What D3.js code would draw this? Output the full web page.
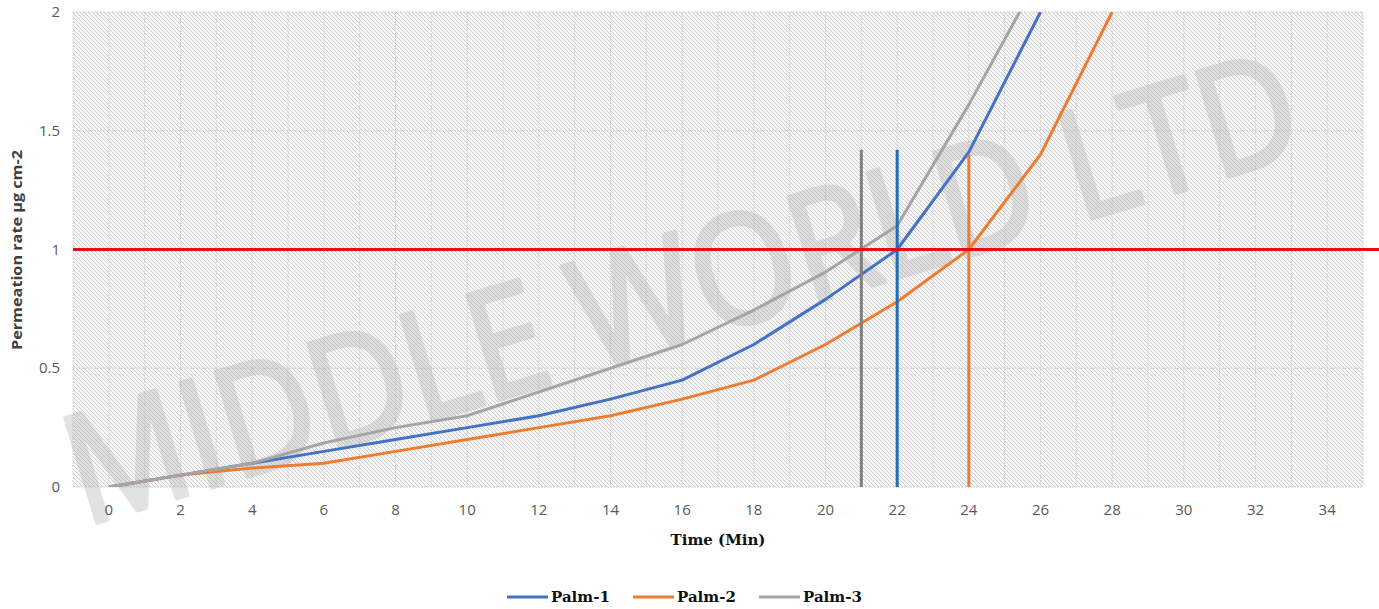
<!DOCTYPE html>
<html><head><meta charset="utf-8">
<script src="https://cdn.jsdelivr.net/npm/d3@7"></script>
<style>body{margin:0;background:#fff;}svg{display:block;}</style>
</head><body>
<script>
const times = [0,2,4,6,8,10,12,14,16,18,20,22,24,26,28];
const palm1 = [0,0.05,0.1,0.15,0.2,0.25,0.3,0.37,0.45,0.6,0.79,1.0,1.41,2.0];
const palm2 = [0,0.05,0.08,0.1,0.15,0.2,0.25,0.3,0.37,0.45,0.6,0.78,1.0,1.4,2.0];
const palm3 = [0,0.05,0.1,0.185,0.25,0.3,0.4,0.5,0.6,0.745,0.905,1.1,1.61,2.16];
const seriesNames = ["Palm-1","Palm-2","Palm-3"];
const seriesColors = ["#4472c4","#ed7d31","#a5a5a5"];
const xTicks = d3.range(0,35,2);
const yTicks = [0,0.5,1,1.5,2];
const threshold = 1;
const crossTimes = [21,22,24];
const crossTops = [1.42,1.42,1.40];
const crossColors = ["#7f7f7f","#1f6db5","#ed7d31"];

const W=1379,H=609;
const L=73,R=1363,T=12,B=487;
const svg=d3.select("body").append("svg").attr("width",W).attr("height",H);
const defs=svg.append("defs");
const pat=defs.append("pattern").attr("id","hatch").attr("patternUnits","userSpaceOnUse")
  .attr("width",4).attr("height",4);
pat.append("rect").attr("width",4).attr("height",4).attr("fill","#f7f7f7");
pat.append("path").attr("d","M-1,-1 L5,5 M-1,3 L1,5 M3,-1 L5,1").attr("stroke","#c8c8c8").attr("stroke-width",0.9);
defs.append("clipPath").attr("id","clip").append("rect").attr("x",L).attr("y",T).attr("width",R-L).attr("height",B-T);

const x=d3.scaleLinear().domain([-1,35]).range([L,R]);
const y=d3.scaleLinear().domain([0,2]).range([B,T]);

svg.append("rect").attr("x",L).attr("y",T).attr("width",R-L).attr("height",B-T).attr("fill","url(#hatch)");

// vertical gridlines
svg.append("g").selectAll("line").data(d3.range(-1,36)).join("line")
  .attr("x1",d=>x(d)).attr("x2",d=>x(d)).attr("y1",T).attr("y2",B)
  .attr("stroke","#d4d4d4").attr("stroke-width",1).attr("stroke-dasharray","2,1");
// horizontal gridlines
svg.append("g").selectAll("line").data(yTicks).join("line")
  .attr("x1",L).attr("x2",R).attr("y1",d=>y(d)).attr("y2",d=>y(d))
  .attr("stroke","#d0d0d0").attr("stroke-width",1).attr("stroke-dasharray","2,1");

// watermark
svg.append("text").attr("x",0).attr("y",0)
  .attr("transform","translate(685,300) rotate(-17)")
  .attr("text-anchor","middle").attr("dominant-baseline","middle").attr("font-family","Open Sans, sans-serif")
  .attr("font-size",152).attr("fill","#b4b4b4").attr("stroke","#b4b4b4").attr("stroke-width",5)
  .attr("stroke-linejoin","round").attr("opacity",0.38)
  .attr("textLength",1280).attr("lengthAdjust","spacingAndGlyphs")
  .text("MIDDLE WORLD LTD");

// axis tick labels
svg.append("g").selectAll("text").data(yTicks).join("text")
  .attr("x",60).attr("y",d=>y(d)+5).attr("text-anchor","end")
  .attr("font-family","Open Sans, sans-serif").attr("font-size",15).attr("fill","#595959")
  .text(d=>d3.format("")(d));
svg.append("g").selectAll("text").data(xTicks).join("text")
  .attr("x",d=>x(d)).attr("y",515).attr("text-anchor","middle")
  .attr("font-family","Open Sans, sans-serif").attr("font-size",15).attr("fill","#595959")
  .text(d=>d);

// axis titles
svg.append("text").attr("transform",`translate(22,250) rotate(-90)`).attr("text-anchor","middle")
  .attr("font-family","Open Sans, sans-serif").attr("font-weight","bold").attr("font-size",14).attr("fill","#404040")
  .attr("textLength",200).attr("lengthAdjust","spacingAndGlyphs")
  .text("Permeation rate µg cm-2");
svg.append("text").attr("x",718).attr("y",545).attr("text-anchor","middle")
  .attr("font-family","DejaVu Serif, serif").attr("font-weight","bold").attr("font-size",15).attr("fill","#111")
  .text("Time (Min)");

const g=svg.append("g").attr("clip-path","url(#clip)");
const line=d3.line().x((d,i)=>x(times[i])).y(d=>y(d));
[palm1,palm2,palm3].forEach((s,i)=>{
  g.append("path").datum(s).attr("d",line).attr("fill","none")
   .attr("stroke",seriesColors[i]).attr("stroke-width",3).attr("stroke-linejoin","round");
});
// vertical crossing lines
svg.append("g").selectAll("line").data(crossTimes).join("line")
  .attr("x1",d=>x(d)).attr("x2",d=>x(d)).attr("y1",(d,i)=>y(crossTops[i])).attr("y2",B)
  .attr("stroke",(d,i)=>crossColors[i]).attr("stroke-width",3);
// threshold
svg.append("line").attr("x1",L).attr("x2",W).attr("y1",y(threshold)).attr("y2",y(threshold))
  .attr("stroke","#e01010").attr("stroke-width",3);

// legend
const lg=svg.append("g");
seriesNames.forEach((n,i)=>{
  const lx=507+i*126;
  lg.append("line").attr("x1",lx).attr("x2",lx+41).attr("y1",597).attr("y2",597)
    .attr("stroke",seriesColors[i]).attr("stroke-width",3);
  lg.append("text").attr("x",lx+44).attr("y",602).attr("font-family","DejaVu Serif, serif")
    .attr("font-weight","bold").attr("font-size",15).attr("fill","#111").text(n);
});
</script>
</body></html>
